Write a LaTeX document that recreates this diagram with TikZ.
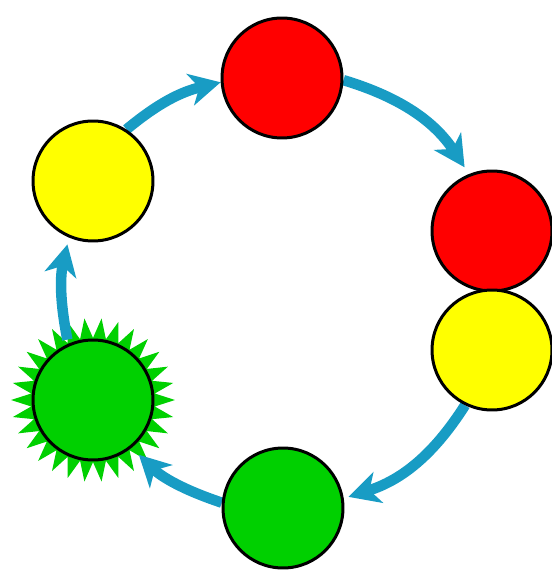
\documentclass[tikz,border=0pt]{standalone}
\usetikzlibrary{arrows.meta,shapes.geometric}

\definecolor{lampred}{RGB}{255,0,0}
\definecolor{lampyellow}{RGB}{255,255,0}
\definecolor{lampgreen}{RGB}{0,208,0}
\definecolor{flowblue}{RGB}{24,156,196}

\pgfdeclarelayer{spikes}
\pgfdeclarelayer{flows}
\pgfsetlayers{spikes,flows,main}

\begin{document}
\begin{tikzpicture}[x=0.02cm, y=-0.02cm,
    lamp/.style={circle, draw=black, line width=0.06cm, minimum size=2.4cm, inner sep=0pt},
    flow/.style={flowblue, line width=0.21cm, -{Stealth[length=0.62cm,width=0.64cm,inset=0.18cm]}}]
    % Page size of the drawing
    \useasboundingbox (0,0) rectangle (551,570);

    % Lamps on the ring
    \node[lamp, fill=lampred] (redTop) at (282,78) {};
    \node[lamp, fill=lampred] (redRight) at (492,231) {};
    \node[lamp, fill=lampyellow] (yellowRight) at (492,350) {};
    \node[lamp, fill=lampgreen] (greenBottom) at (283,508) {};
    \node[lamp, fill=lampgreen] (greenLeft) at (93,400) {};
    \node[lamp, fill=lampyellow] (yellowLeft) at (93,181) {};

    % Blinking green: spikes behind the lamp
    \begin{pgfonlayer}{spikes}
        \node[star, star points=30, star point ratio=1.32, minimum size=3.28cm, inner sep=0pt,
              fill=lampgreen, shape border rotate=6] (greenStar) at (greenLeft) {};
    \end{pgfonlayer}

    % Arrows round the cycle
    \begin{pgfonlayer}{flows}
        \draw[flow] (yellowLeft.57) to[bend left=13] (redTop.184);
        \draw[flow, shorten >=0.16cm] (redTop.-2) to[bend left=20] (redRight.112);
        \draw[flow, shorten >=0.1cm] (yellowRight.244) to[bend left=20] (greenBottom.9);
        \draw[flow, shorten >=0.2cm] (greenBottom.175) to[bend left=13] (greenLeft.-51);
        \draw[flow, shorten >=0.14cm] (greenStar.113) to[bend left=12] (yellowLeft.247);
    \end{pgfonlayer}
\end{tikzpicture}
\end{document}
